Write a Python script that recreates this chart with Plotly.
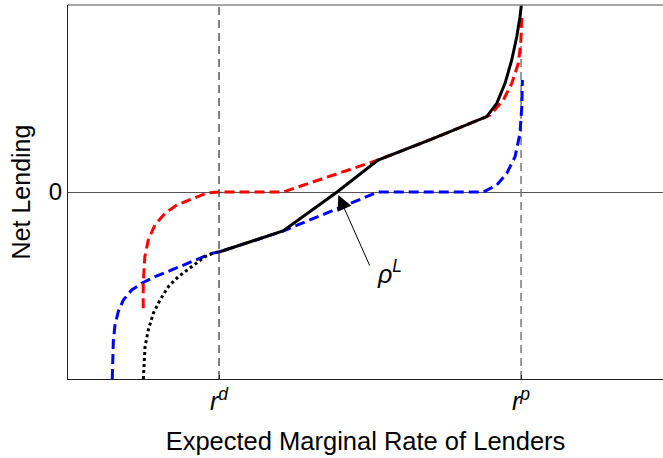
import plotly.graph_objects as go

# Reference rates
r_d = 3.0
r_p = 8.0
x_tick_vals = [r_d, r_p]
x_tick_text = ["<i>r</i><sup><i>d</i></sup>", "<i>r</i><sup><i>p</i></sup>"]
y_tick_vals = [0]
y_tick_text = ["0"]

# Black solid (aggregate net lending)
black_x = [3.0, 4.06, 4.954, 5.632, 6.49, 7.432, 7.598, 7.735, 7.846, 7.929, 7.983, 8.005]
black_y = [-0.321, -0.2086, 0.0, 0.171, 0.279, 0.403, 0.474, 0.581, 0.706, 0.83, 0.937, 1.0]

# Black dotted (lower branch)
dot_x = [1.747, 1.775, 1.829, 1.912, 2.023, 2.161, 2.326, 2.548, 2.768, 2.934, 3.0]
dot_y = [-1.0, -0.828, -0.738, -0.649, -0.578, -0.506, -0.453, -0.399, -0.346, -0.323, -0.321]

# Red dashed
red_x = [1.745, 1.745, 1.772, 1.829, 1.94, 2.105, 2.30, 2.52, 2.80, 3.0, 4.06,
         5.632, 6.49, 7.432, 7.487, 7.707, 7.846, 7.955, 7.995, 8.012, 8.022]
red_y = [-0.622, -0.488, -0.346, -0.257, -0.176, -0.114, -0.070, -0.043, -0.005, 0.0, 0.0,
         0.171, 0.279, 0.403, 0.412, 0.492, 0.581, 0.688, 0.795, 0.918, 0.955]

# Blue dashed
blue_x = [1.233, 1.250, 1.278, 1.333, 1.416, 1.555, 1.720, 1.940, 2.217, 2.492, 2.879, 3.0, 4.06,
          5.632, 7.376, 7.598, 7.763, 7.901, 7.983, 8.012, 8.022]
blue_y = [-1.0, -0.8, -0.71, -0.639, -0.578, -0.524, -0.488, -0.453, -0.417, -0.381, -0.328, -0.321, -0.2086,
          0.0, 0.0, 0.037, 0.1, 0.189, 0.314, 0.456, 0.599]

# Arrow to rho^L
rho_x, rho_y = 4.975, -0.016
rho_label_x, rho_label_y = 5.83, -0.428

fig = go.Figure()

fig.add_trace(go.Scatter(x=[r_d, r_d], y=[-1, 1], mode="lines",
                         line=dict(color="#000000", width=1, dash="8px,5px"), hoverinfo="skip"))
fig.add_trace(go.Scatter(x=[r_p, r_p], y=[-1, 1], mode="lines",
                         line=dict(color="#777777", width=1.5, dash="8px,5px"), hoverinfo="skip"))

fig.add_trace(go.Scatter(x=blue_x, y=blue_y, mode="lines",
                         line=dict(color="#0000ff", width=3, dash="10px,5px")))
fig.add_trace(go.Scatter(x=red_x, y=red_y, mode="lines",
                         line=dict(color="#ff0000", width=3, dash="10px,5px")))
fig.add_trace(go.Scatter(x=dot_x, y=dot_y, mode="lines",
                         line=dict(color="black", width=3, dash="dot")))
fig.add_trace(go.Scatter(x=black_x, y=black_y, mode="lines",
                         line=dict(color="black", width=3)))

fig.add_annotation(x=rho_x, y=rho_y, ax=32, ay=72, text="", showarrow=True,
                   arrowhead=2, arrowsize=3, arrowwidth=1, arrowcolor="black")
fig.add_annotation(x=rho_label_x, y=rho_label_y, text="<i>ρ</i><sup><i>L</i></sup>",
                   showarrow=False, font=dict(size=25, color="black"))

fig.add_shape(type="line", xref="paper", yref="paper", x0=0, x1=1, y0=1, y1=1,
              line=dict(color="#888888", width=1.5))

fig.update_layout(
    width=663, height=458,
    margin=dict(l=68, r=0, t=5, b=79),
    plot_bgcolor="white", paper_bgcolor="white",
    showlegend=False,
    font=dict(family="Liberation Sans", color="black"),
    xaxis=dict(range=[0.5, 10.35], tickvals=x_tick_vals, ticktext=x_tick_text,
               ticks="inside", ticklen=4, tickcolor="#222", showline=True, linecolor="#222",
               linewidth=1, showgrid=False, zeroline=False, tickfont=dict(size=25),
               title=dict(text="Expected Marginal Rate of Lenders", font=dict(size=25.5), standoff=18)),
    yaxis=dict(range=[-1, 1], tickvals=y_tick_vals, ticktext=y_tick_text,
               ticks="", showline=True, linecolor="#222", linewidth=1, showgrid=False,
               zeroline=True, zerolinecolor="#555", zerolinewidth=1, tickfont=dict(size=24),
               title=dict(text="Net Lending", font=dict(size=25), standoff=11)),
)

fig.write_html("out.html")
